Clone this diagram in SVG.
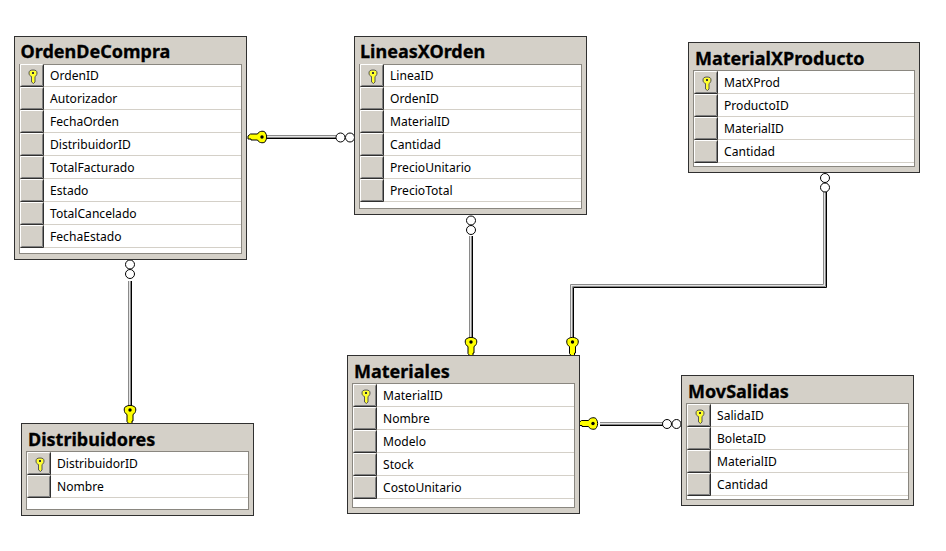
<svg xmlns="http://www.w3.org/2000/svg" width="946" height="551" viewBox="0 0 946 551">
<style>
.t{fill:#d4d0c8;stroke:#303030;stroke-width:1}
.g{fill:#fff;stroke:#8a8780;stroke-width:1}
.l{stroke:#d4d0c8;stroke-width:1}
.h{font:bold 18px "Noto Sans",sans-serif;fill:#000;stroke:#000;stroke-width:.3px}
.f{font:12.100px "Noto Sans",sans-serif;fill:#000}
.bd{stroke:#000;stroke-width:1;fill:none}
.bm{stroke:#8a8a8a;stroke-width:1;fill:none}
.bl{stroke:#e4e4e4;stroke-width:1;fill:none}
.o{fill:#fff;stroke:#000;stroke-width:1}
</style>
<defs>
<g id="btn"><rect x="0" y="0" width="24" height="23" fill="#d4d0c8"/><path d="M.5 21.500V.5H22.500" stroke="#fff" fill="none"/><path d="M1.500 21.500H22.500V1.500" stroke="#808080" fill="none"/><path d="M.5 22.500H23.500V.5" stroke="#303030" fill="none"/></g>
<g id="kbtn"><use href="#btn"/><path d="M13 6c-3 0-4 1-4 3s1 3 2.500 3.500V18l2 1.500 1.500-1.500v-5.500C16 12 17 11 17 9s-1-3-4-3z" fill="#ffff30" stroke="#555" stroke-width="1"/><rect x="12" y="8" width="2" height="2" fill="#333"/></g>
<g id="key"><path d="M-4 -4.500C-6.500 -4 -6.500 2 -3 3.500V10.500L-1 13H2V10H3V3.500C6.500 2 6.500 -4 4 -4.500C2 -6 -2 -6 -4 -4.500Z" fill="#ffff00" stroke="#000"/><circle cx="0" cy="-1" r="1.700" fill="#000"/></g>
</defs>
<rect width="946" height="551" fill="#fff"/>
<g id="connectors">
<g id="c1"><path class="bm" d="M267 135.500H336"/><path class="bl" d="M267 136.500H336"/><path class="bm" d="M267 137.500H336"/><path class="bd" d="M267 138.500H336"/><circle class="o" cx="340.500" cy="137.500" r="4.500"/><circle class="o" cx="350" cy="137.500" r="4.500"/><use href="#key" transform="translate(261 137) rotate(90)"/></g>
<g id="c2"><path class="bm" d="M128.500 281V406"/><path class="bl" d="M129.500 281V406"/><path class="bm" d="M130.500 281V406"/><path class="bd" d="M131.500 281V406"/><circle class="o" cx="130" cy="264.500" r="4.500"/><circle class="o" cx="130" cy="274" r="4.500"/><use href="#key" transform="translate(130 411)"/></g>
<g id="c3"><path class="bm" d="M469.500 236V338"/><path class="bl" d="M470.500 236V338"/><path class="bm" d="M471.500 236V338"/><path class="bd" d="M472.500 236V338"/><circle class="o" cx="471" cy="220.500" r="4.500"/><circle class="o" cx="471" cy="230" r="4.500"/><use href="#key" transform="translate(471 343)"/></g>
<g id="c4"><path class="bm" d="M570.500 338V284.500H823.500V192"/><path class="bl" d="M571.500 338V285.500H824.500V192"/><path class="bm" d="M572.500 338V286.500H825.500V192"/><path class="bd" d="M573.500 338V287.500H826.500V192"/><circle class="o" cx="825" cy="178" r="4.500"/><circle class="o" cx="825" cy="187.500" r="4.500"/><use href="#key" transform="translate(572.500 343)"/></g>
<g id="c5"><path class="bm" d="M600 422.500H663"/><path class="bl" d="M600 423.500H663"/><path class="bm" d="M600 424.500H663"/><path class="bd" d="M600 425.500H663"/><circle class="o" cx="667" cy="424" r="4.500"/><circle class="o" cx="676.500" cy="424" r="4.500"/><use href="#key" transform="translate(592 423.500) rotate(90)"/></g>
</g>
<g id="OrdenDeCompra"><rect class="t" x="14.500" y="36.500" width="232" height="223"/><rect class="g" x="19.500" y="64.500" width="222" height="189"/>
<g transform="translate(20 64)"><use href="#kbtn"/><use href="#btn" y="23"/><use href="#btn" y="46"/><use href="#btn" y="69"/><use href="#btn" y="92"/><use href="#btn" y="115"/><use href="#btn" y="138"/><use href="#btn" y="161"/><path class="l" d="M24 22.500H221M24 45.500H221M24 68.500H221M24 91.500H221M24 114.500H221M24 137.500H221M24 160.500H221M24 183.500H221"/></g>
<text class="h" x="20.500" y="58">OrdenDeCompra</text>
<text class="f" x="50" y="80">OrdenID</text><text class="f" x="50" y="103">Autorizador</text><text class="f" x="50" y="126">FechaOrden</text><text class="f" x="50" y="149">DistribuidorID</text><text class="f" x="50" y="172">TotalFacturado</text><text class="f" x="50" y="195">Estado</text><text class="f" x="50" y="218">TotalCancelado</text><text class="f" x="50" y="241">FechaEstado</text></g>
<g id="LineasXOrden"><rect class="t" x="354.500" y="36.500" width="232" height="178"/><rect class="g" x="359.500" y="64.500" width="222" height="144"/>
<g transform="translate(360 64)"><use href="#kbtn"/><use href="#btn" y="23"/><use href="#btn" y="46"/><use href="#btn" y="69"/><use href="#btn" y="92"/><use href="#btn" y="115"/><path class="l" d="M24 22.500H221M24 45.500H221M24 68.500H221M24 91.500H221M24 114.500H221M24 137.500H221"/></g>
<text class="h" x="360" y="58">LineasXOrden</text>
<text class="f" x="390" y="80">LineaID</text><text class="f" x="390" y="103">OrdenID</text><text class="f" x="390" y="126">MaterialID</text><text class="f" x="390" y="149">Cantidad</text><text class="f" x="390" y="172">PrecioUnitario</text><text class="f" x="390" y="195">PrecioTotal</text></g>
<g id="MaterialXProducto"><rect class="t" x="688.500" y="42.500" width="231" height="130"/><rect class="g" x="693.500" y="70.500" width="221" height="96"/>
<g transform="translate(694 71)"><use href="#kbtn"/><use href="#btn" y="23"/><use href="#btn" y="46"/><use href="#btn" y="69"/><path class="l" d="M24 22.500H220M24 45.500H220M24 68.500H220M24 91.500H220"/></g>
<text class="h" x="695" y="65">MaterialXProducto</text>
<text class="f" x="724" y="87">MatXProd</text><text class="f" x="724" y="110">ProductoID</text><text class="f" x="724" y="133">MaterialID</text><text class="f" x="724" y="156">Cantidad</text></g>
<g id="Distribuidores"><rect class="t" x="21.500" y="423.500" width="232" height="92"/><rect class="g" x="26.500" y="451.500" width="222" height="58"/>
<g transform="translate(27 452)"><use href="#kbtn"/><use href="#btn" y="23"/><path class="l" d="M24 22.500H221M24 45.500H221"/></g>
<text class="h" x="28" y="446">Distribuidores</text>
<text class="f" x="57" y="468">DistribuidorID</text><text class="f" x="57" y="491">Nombre</text></g>
<g id="Materiales"><rect class="t" x="347.500" y="355.500" width="232" height="158"/><rect class="g" x="352.500" y="383.500" width="222" height="124"/>
<g transform="translate(353 384)"><use href="#kbtn"/><use href="#btn" y="23"/><use href="#btn" y="46"/><use href="#btn" y="69"/><use href="#btn" y="92"/><path class="l" d="M24 22.500H221M24 45.500H221M24 68.500H221M24 91.500H221M24 114.500H221"/></g>
<text class="h" x="354" y="378">Materiales</text>
<text class="f" x="383" y="400">MaterialID</text><text class="f" x="383" y="423">Nombre</text><text class="f" x="383" y="446">Modelo</text><text class="f" x="383" y="469">Stock</text><text class="f" x="383" y="492">CostoUnitario</text></g>
<g id="MovSalidas"><rect class="t" x="681.500" y="375.500" width="232" height="130"/><rect class="g" x="686.500" y="403.500" width="222" height="96"/>
<g transform="translate(687 404)"><use href="#kbtn"/><use href="#btn" y="23"/><use href="#btn" y="46"/><use href="#btn" y="69"/><path class="l" d="M24 22.500H221M24 45.500H221M24 68.500H221M24 91.500H221"/></g>
<text class="h" x="688" y="398">MovSalidas</text>
<text class="f" x="717" y="420">SalidaID</text><text class="f" x="717" y="443">BoletaID</text><text class="f" x="717" y="466">MaterialID</text><text class="f" x="717" y="489">Cantidad</text></g>
</svg>
